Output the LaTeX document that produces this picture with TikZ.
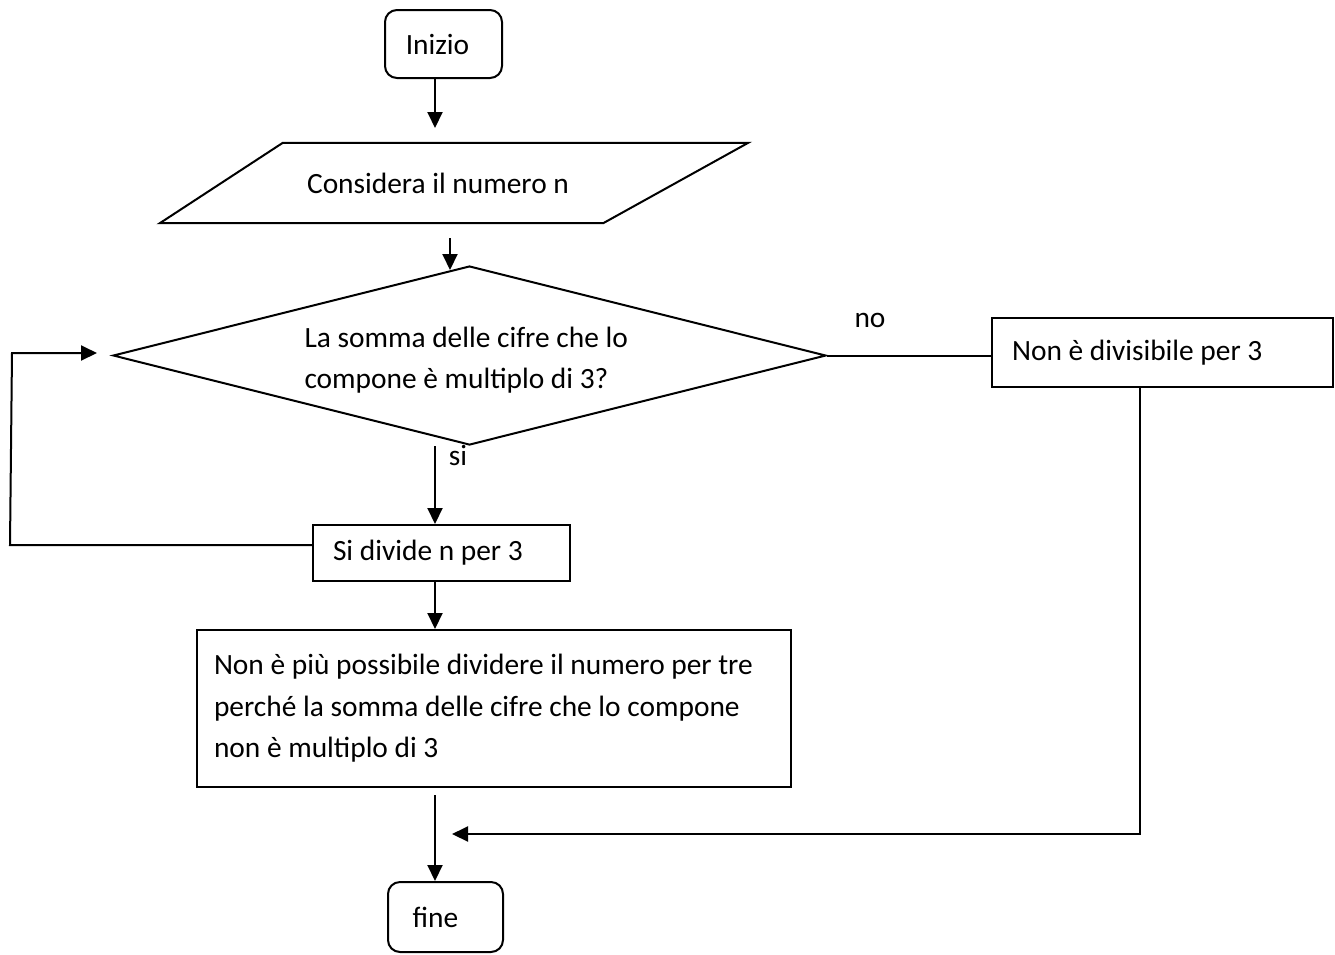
\documentclass[tikz,border=0pt]{standalone}
\usepackage{fontspec}
\setmainfont{Carlito}
\usetikzlibrary{shapes.geometric,arrows.meta}

\begin{document}
\begin{tikzpicture}[x=1pt,y=-1pt,
  every node/.style={font=\fontsize{29.4}{41.5}\selectfont},
  term/.style={draw,rectangle,rounded corners=12pt,line width=2pt,minimum width=117pt,minimum height=68pt},
  box/.style={draw,rectangle,line width=2pt,inner xsep=20pt,align=flush left},
  io/.style={rectangle,inner sep=0pt},
  test/.style={draw,diamond,aspect=4,inner sep=0pt,align=flush left,line width=2pt},
  arr/.style={line width=2pt,-{Triangle[length=16pt,width=15pt]}},
  line/.style={line width=2pt}]
\useasboundingbox (0,0) rectangle (1335,954);

% blocchi
\node[term] (inizio) at (443.5,44) {Inizio\hspace*{12pt}};
\node[io,minimum width=588pt,minimum height=80pt] (numero) at (454,183) {Considera il numero n\hspace*{32pt}};
\draw[line] ([xshift=123pt]numero.north west) -- (numero.north east)
  -- ([xshift=-145pt]numero.south east) -- (numero.south west) -- cycle;
\node[test,minimum width=713pt,minimum height=179pt,text width=330pt] (somma) at (469.5,355.5)
  {\rule{0pt}{30pt}La somma delle cifre che lo\\compone è multiplo di 3?};
\node[box,text width=301pt,minimum height=69pt] (nodiv) at (1162.5,352.5) {Non è divisibile per 3};
\node[box,text width=217pt,minimum height=56pt] (divide) at (441.5,553) {Si divide n per 3};
\node[box,inner xsep=17pt,text width=560pt,minimum height=157pt] (finito) at (494,708.5)
  {Non è più possibile dividere il numero per tre\\perché la somma delle cifre che lo compone\\non è multiplo di 3};
\node[term,minimum width=115pt,minimum height=70pt] (fine) at (445.5,917) {fine\hspace*{20pt}};
\node (no) at (870,320) {no};
\node (si) at (458,455) {si};

% punti liberi
\coordinate (col) at (435,0);
\coordinate (a1) at (435,128);
\coordinate (a2) at (450,238);
\coordinate (a3) at (450,270);
\coordinate (a4) at (435,795);
\coordinate (j1) at (1140,834);
\coordinate (j2) at (452,834);
\coordinate (l1) at (10,545);
\coordinate (l2) at (12,353);
\coordinate (l3) at (97,353);

% frecce
\draw[arr] (a1 |- inizio.south) -- (a1);
\draw[arr] (a2) -- (a3);
\draw[line] (somma.east) -- (somma.east -| nodiv.west);
\draw[arr] (j1 |- nodiv.south) -- (j1) -- (j2);
\draw[arr] (col |- somma.south) -- (col |- divide.north);
\draw[arr] (divide.west |- l1) -- (l1) -- (l2) -- (l3);
\draw[arr] (col |- divide.south) -- (col |- finito.north);
\draw[arr] (a4) -- (a4 |- fine.north);
\end{tikzpicture}
\end{document}
